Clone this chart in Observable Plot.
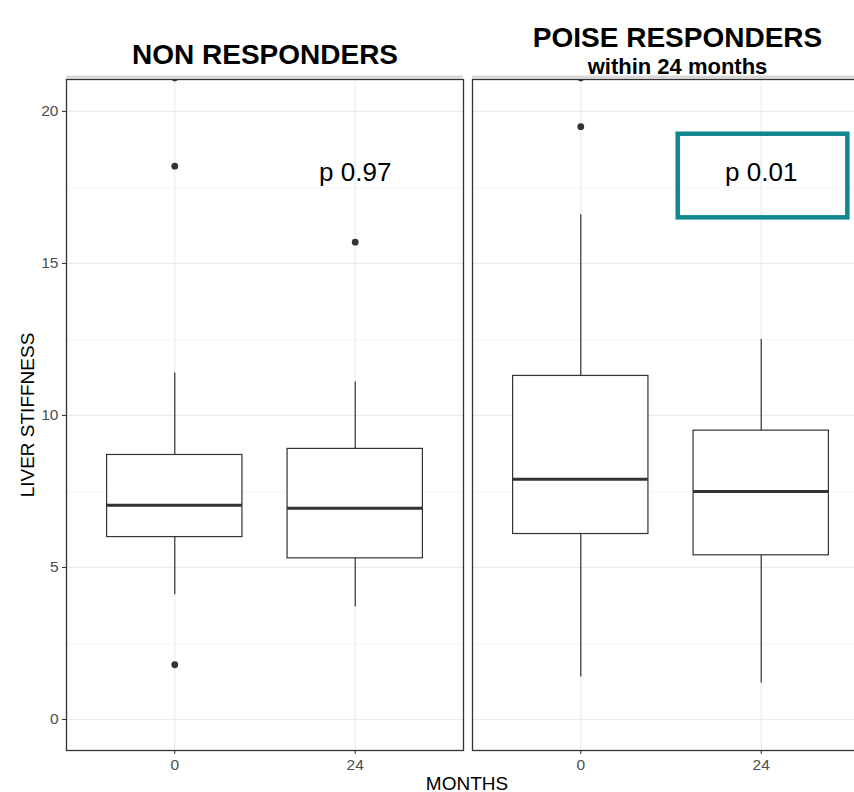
<!DOCTYPE html>
<html>
<head>
<meta charset="utf-8">
<script src="https://cdn.jsdelivr.net/npm/d3@7"></script>
<script src="https://cdn.jsdelivr.net/npm/@observablehq/plot@0.6"></script>
<style>
  html, body { margin: 0; padding: 0; background: #fff; overflow: hidden; }
  #wrap { position: relative; width: 854px; height: 792px; overflow: hidden; font-family: "Liberation Sans", Arial, Helvetica, sans-serif; }
  #chart { position: absolute; left: 0; top: 0; width: 880px; }
  .axis-title { position: absolute; color: #000; font-size: 19px; line-height: 19px; white-space: nowrap; }
  #xtitle { left: 467px; top: 783px; transform: translate(-50%, -50%); }
  #ytitle { left: 27px; top: 415px; transform: translate(-50%, -50%) rotate(-90deg); }
</style>
</head>
<body>
<div id="wrap">
  <div id="chart"></div>
  <div class="axis-title" id="xtitle">MONTHS</div>
  <div class="axis-title" id="ytitle">LIVER STIFFNESS</div>
</div>
<script>
// Facet panels and their headings
const panels = ["NON RESPONDERS", "POISE RESPONDERS"];
const panelSubtitles = ["", "within 24 months"];
const months = ["0", "24"];

// Box summaries, one entry per panel × month
const boxPanel = ["NON RESPONDERS", "NON RESPONDERS", "POISE RESPONDERS", "POISE RESPONDERS"];
const boxMonth = ["0", "24", "0", "24"];
const whiskerLow = [4.1, 3.7, 1.4, 1.2];
const q1 = [6.0, 5.3, 6.1, 5.4];
const median = [7.05, 6.95, 7.9, 7.5];
const q3 = [8.7, 8.9, 11.3, 9.5];
const whiskerHigh = [11.4, 11.1, 16.6, 12.5];

// Outlying observations
const outlierPanel = ["NON RESPONDERS", "NON RESPONDERS", "NON RESPONDERS", "NON RESPONDERS", "POISE RESPONDERS", "POISE RESPONDERS"];
const outlierMonth = ["0", "0", "0", "24", "0", "0"];
const outlierValue = [21.1, 18.2, 1.8, 15.7, 21.1, 19.5];

// Paired-test p values, printed over the 24-month boxes
const pLabels = ["p 0.97", "p 0.01"];
const pLabelValue = 18;

// Highlight box around the significant result
const highlightPanel = "POISE RESPONDERS";
const highlightMonths = [1.54, 2.48];
const highlightValues = [16.5, 19.25];

// Axis ticks
const yTicks = [0, 5, 10, 15, 20];
const yMinorTicks = [2.5, 7.5, 12.5, 17.5];
const yDomain = [-1.02, 21.05];

const boxes = boxPanel.map((panel, i) => ({
  panel,
  pos: months.indexOf(boxMonth[i]) + 1,
  lo: whiskerLow[i], q1: q1[i], median: median[i], q3: q3[i], hi: whiskerHigh[i]
}));
const outliers = outlierValue.map((v, i) => ({
  panel: outlierPanel[i], pos: months.indexOf(outlierMonth[i]) + 1, value: v
}));
const pText = panels.map((panel, i) => ({panel, pos: 2, value: pLabelValue, text: pLabels[i]}));
const headings = panels.map((panel, i) => ({panel, title: panel, subtitle: panelSubtitles[i]}));
const highlight = [{panel: highlightPanel, x1: highlightMonths[0], x2: highlightMonths[1], y1: highlightValues[0], y2: highlightValues[1]}];

const halfWidth = 0.375;
const ink = "#333333";

const chart = Plot.plot({
  width: 880,
  height: 792,
  marginLeft: 66,
  marginRight: 11,
  marginTop: 79,
  marginBottom: 42,
  style: {fontFamily: "'Liberation Sans', Arial, Helvetica, sans-serif", background: "white", overflow: "visible", maxWidth: "none"},
  facet: {marginTop: 0, marginBottom: 0, marginLeft: 0, marginRight: 0},
  fx: {domain: panels, paddingInner: 9 / 406, paddingOuter: 0, axis: null, label: null},
  x: {domain: [0.4, 2.6], axis: null},
  y: {domain: yDomain, axis: null},
  marks: [
    // panel grid
    Plot.ruleY(yMinorTicks, {stroke: "#f3f3f3", strokeWidth: 0.8}),
    Plot.ruleY(yTicks, {stroke: "#ebebeb", strokeWidth: 1.2}),
    Plot.ruleX([1, 2], {stroke: "#ebebeb", strokeWidth: 1.2}),
    // whiskers
    Plot.ruleX(boxes, {fx: "panel", x: "pos", y1: "lo", y2: "hi", stroke: ink, strokeWidth: 1.2}),
    // boxes
    Plot.rect(boxes, {fx: "panel", x1: d => d.pos - halfWidth, x2: d => d.pos + halfWidth, y1: "q1", y2: "q3", fill: "white", stroke: ink, strokeWidth: 1.2}),
    // medians
    Plot.ruleY(boxes, {fx: "panel", y: "median", x1: d => d.pos - halfWidth, x2: d => d.pos + halfWidth, stroke: ink, strokeWidth: 3}),
    // outliers
    Plot.dot(outliers, {fx: "panel", x: "pos", y: "value", r: 3.4, fill: ink, stroke: null, clip: true}),
    // p values
    Plot.text(pText, {fx: "panel", x: "pos", y: "value", text: "text", fontSize: 26, fill: "black"}),
    // highlight
    Plot.rect(highlight, {fx: "panel", x1: "x1", x2: "x2", y1: "y1", y2: "y2", fill: "none", stroke: "#10868f", strokeWidth: 4.5}),
    // strip edge and panel border
    Plot.ruleY([yDomain[1]], {stroke: "#d9d9d9", strokeWidth: 3, dy: -2.5}),
    Plot.frame({stroke: ink, strokeWidth: 1.3}),
    // axes
    Plot.axisY({ticks: yTicks, tickSize: 4, tickPadding: 4, fontSize: 15.5, fill: "#4d4d4d", stroke: ink, label: null}),
    Plot.axisX({ticks: [1, 2], tickFormat: d => months[d - 1], tickSize: 4, tickPadding: 4, fontSize: 15.5, fill: "#4d4d4d", stroke: ink, label: null}),
    // panel headings
    Plot.text(headings.filter(d => !d.subtitle), {fx: "panel", frameAnchor: "top", text: "title", dy: -35, fontSize: 28, fontWeight: "bold", fill: "black"}),
    Plot.text(headings.filter(d => d.subtitle), {fx: "panel", frameAnchor: "top", text: "title", dy: -52, dx: 6.5, fontSize: 28, fontWeight: "bold", fill: "black"}),
    Plot.text(headings.filter(d => d.subtitle), {fx: "panel", frameAnchor: "top", text: "subtitle", dy: -21, dx: 6.5, fontSize: 22, fontWeight: "bold", fill: "black"})
  ]
});
document.getElementById("chart").appendChild(chart);
</script>
</body>
</html>
